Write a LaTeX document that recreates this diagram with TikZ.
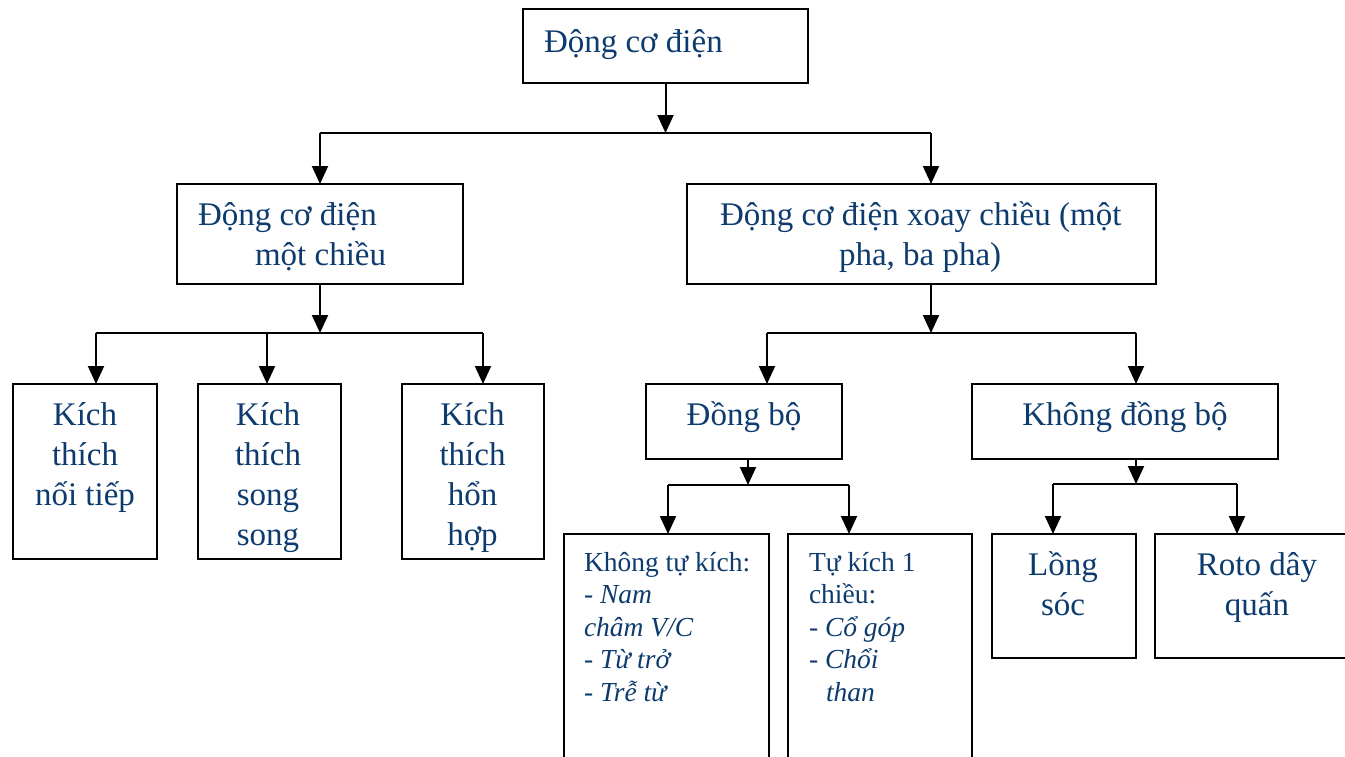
\documentclass[tikz,border=0pt]{standalone}
\usepackage{fontspec}
\setmainfont{Liberation Serif}
\usetikzlibrary{arrows.meta}
\definecolor{txt}{HTML}{0D3B6E}
\begin{document}
\begin{tikzpicture}[x=1pt,y=-1pt,
  box/.style={draw, line width=2.6pt, inner sep=0pt, outer sep=0pt, anchor=north west},
  arr/.style={line width=2pt, -{Triangle[length=18pt,width=16pt]}},
  ln/.style={line width=2.4pt},
  big/.style={text=txt, font=\fontsize{33}{40}\selectfont, inner sep=0pt, outer sep=0pt},
  small/.style={text=txt, font=\fontsize{27.5}{32.5}\selectfont, inner sep=0pt, outer sep=0pt}]
\useasboundingbox (0,0) rectangle (1345,756);
\clip (0,0) rectangle (1345,756);
% boxes
\node[box, minimum width=285pt, minimum height=74pt] (top) at (523,9) {};
\node[box, minimum width=286pt, minimum height=100pt] (A) at (177,184) {};
\node[box, minimum width=469pt, minimum height=100pt] (B) at (687,184) {};
\node[box, minimum width=144pt, minimum height=175pt] (K1) at (13,384) {};
\node[box, minimum width=143pt, minimum height=175pt] (K2) at (198,384) {};
\node[box, minimum width=142pt, minimum height=175pt] (K3) at (402,384) {};
\node[box, minimum width=196pt, minimum height=75pt] (DB) at (646,384) {};
\node[box, minimum width=306pt, minimum height=75pt] (KDB) at (972,384) {};
\node[box, minimum width=205pt, minimum height=260pt] (NT) at (564,534) {};
\node[box, minimum width=184pt, minimum height=260pt] (TK) at (788,534) {};
\node[box, minimum width=144pt, minimum height=124pt] (LS) at (992,534) {};
\node[box, minimum width=220pt, minimum height=124pt] (RD) at (1155,534) {};
% texts (base anchor = baseline of the last line)
\node[big, anchor=base west] (ttop) at (544,52) {Động cơ điện};
\node[big, anchor=base west, align=left] (tA) at (198,265) {Động cơ điện\\\hspace*{57pt}một chiều};
\node[big, anchor=base west, align=left] (tB) at (720,265) {Động cơ điện xoay chiều (một\\\hspace*{119pt}pha, ba pha)};
\node[big, anchor=base, align=center] (tK1) at (85,505) {Kích\\thích\\nối tiếp};
\node[big, anchor=base, align=center] (tK2) at (268,545) {Kích\\thích\\song\\song};
\node[big, anchor=base, align=center] (tK3) at (472.5,545) {Kích\\thích\\hổn\\hợp};
\node[big, anchor=base] (tDB) at (744,425) {Đồng bộ};
\node[big, anchor=base] (tKDB) at (1125,425) {Không đồng bộ};
\node[small, anchor=base west, align=left] (tNT) at (584,701) {Không tự kích:\\- \textit{Nam}\\\textit{châm V/C}\\- \textit{Từ trở}\\- \textit{Trễ từ}};
\node[small, anchor=base west, align=left] (tTK) at (809,701) {Tự kích 1\\chiều:\\- \textit{Cổ góp}\\- \textit{Chổi}\\\hspace*{17pt}\textit{than}};
\node[big, anchor=base, align=center] (tLS) at (1063,615) {Lồng\\sóc};
\node[big, anchor=base, align=center] (tRD) at (1257,615) {Roto dây\\quấn};
% bus coordinates
\coordinate (b1l) at (320,133);
\coordinate (b1r) at (931,133);
\coordinate (b2l) at (96,333);
\coordinate (b2m) at (267,333);
\coordinate (b2r) at (483,333);
\coordinate (b3l) at (767,333);
\coordinate (b3r) at (1136,333);
\coordinate (b4m) at (748,485);
\coordinate (b4l) at (668,485);
\coordinate (b4r) at (849,485);
\coordinate (b5l) at (1053,484);
\coordinate (b5r) at (1237,484);
% connectors
\draw[arr] (top.south) -- (top.south |- b1l);
\draw[ln] (b1l) -- (b1r);
\draw[arr] (b1l) -- (b1l |- A.north);
\draw[arr] (b1r) -- (b1r |- B.north);
\draw[arr] (b1l |- A.south) -- (b1l |- b2l);
\draw[ln] (b2l) -- (b2r);
\draw[arr] (b2l) -- (b2l |- K1.north);
\draw[arr] (b2m) -- (b2m |- K2.north);
\draw[arr] (b2r) -- (b2r |- K3.north);
\draw[arr] (b1r |- B.south) -- (b1r |- b3l);
\draw[ln] (b3l) -- (b3r);
\draw[arr] (b3l) -- (b3l |- DB.north);
\draw[arr] (b3r) -- (b3r |- KDB.north);
\draw[arr] (b4m |- DB.south) -- (b4m);
\draw[ln] (b4l) -- (b4r);
\draw[arr] (b4l) -- (b4l |- NT.north);
\draw[arr] (b4r) -- (b4r |- TK.north);
\draw[arr] (b3r |- KDB.south) -- (b3r |- b5l);
\draw[ln] (b5l) -- (b5r);
\draw[arr] (b5l) -- (b5l |- LS.north);
\draw[arr] (b5r) -- (b5r |- RD.north);
\end{tikzpicture}
\end{document}
